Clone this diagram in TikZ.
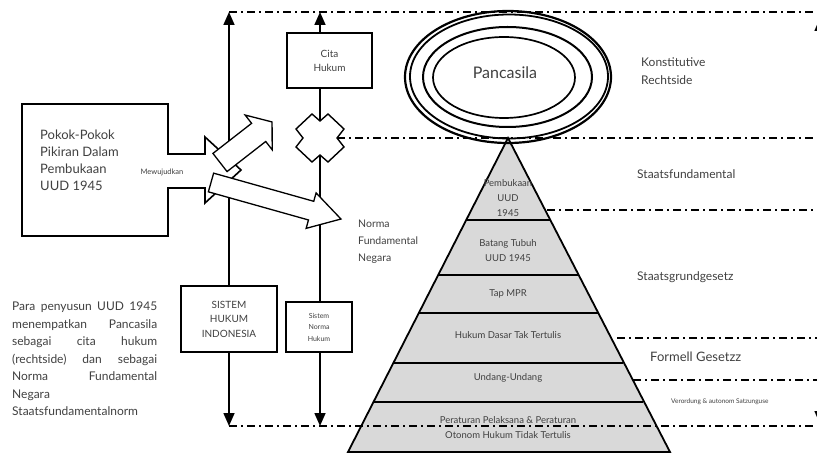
\documentclass[tikz,border=0pt]{standalone}
\usepackage{fontspec}
\setmainfont{Lato}
\usetikzlibrary{arrows.meta,calc}
\newcommand{\sz}[2]{\fontsize{#1}{#2}\selectfont}
\tikzset{
	box/.style={draw,line width=1.6pt,inner sep=0pt,align=center,text=black!75},
	lbl/.style={text=black!75,inner sep=0pt,align=left},
	pyr/.style={text=black!75,inner sep=0pt,align=center,font=\sz{9.5}{15}},
	dashdot/.style={line width=1.3pt,dash pattern=on 8pt off 4pt on 2pt off 4pt},
	axis/.style={line width=1.6pt,-{Triangle[length=13pt,width=11pt]}},
	blockarrow/.style={draw,line width=1.3pt,fill=white},
}
\begin{document}
\begin{tikzpicture}[x=1pt,y=-1pt,line join=miter]
	\useasboundingbox (0,0) rectangle (817,454);
	\fill[black!15] (508,138)--(348,452)--(670,452)--cycle;
	\foreach \yy in {220,275,313,363,402}{
		\pgfmathsetmacro\hw{(\yy-138)/314*161}
		\draw[line width=1.5pt] ({508-\hw},\yy)--({508+\hw},\yy);}
	\draw[line width=1.8pt] (508,138)--(348,452)--(670,452)--cycle;
	\node[pyr] (pemb) at (508,198) {Pembukaan\\UUD\\1945};
	\node[pyr] (batang) at (508,250.5) {Batang Tubuh\\UUD 1945};
	\node[pyr] (tap) at (508,294) {Tap MPR};
	\node[pyr] (hdtt) at (508,335) {Hukum Dasar Tak Tertulis};
	\node[pyr] (uu) at (508,378) {Undang-Undang};
	\node[pyr] (perat) at (508,427.5) {Peraturan Pelaksana \& Peraturan\\Otonom Hukum Tidak Tertulis};
	\draw[line width=2.2pt] (508,77) ellipse [x radius=103,y radius=66];
	\draw[line width=1.8pt] (509,76.5) ellipse [x radius=99,y radius=62];
	\draw[line width=2pt] (507.5,77) ellipse [x radius=84.5,y radius=50];
	\draw[line width=1.7pt] (504,77.5) ellipse [x radius=71,y radius=40.5];
	\node[lbl,font=\sz{16}{18}] (panca) at (505,73) {Pancasila};
	\coordinate (t1) at (229,12);
	\coordinate (b1) at (229,426);
	\coordinate (t2) at (320,12);
	\coordinate (b2) at (320,426);
	\node[box,minimum width=85pt,minimum height=55pt,font=\sz{10}{14}] (cita) at (329.5,60.5) {Cita\\Hukum};
	\node[box,minimum width=96pt,minimum height=66pt,font=\sz{10}{14.5}] (sys) at (229,319) {SISTEM\\HUKUM\\INDONESIA};
	\node[box,minimum width=66pt,minimum height=50pt,font=\sz{7}{11.5}] (snh) at (319,327) {Sistem\\Norma\\Hukum};
	\begin{scope}[shift={(320,138)}]
		\draw[line width=1.4pt,fill=white] (-8,-24)--(0,-17)--(8,-24)--(24,-9)--(17,0)--(24,9)--(8,24)--(0,17)--(-8,24)--(-24,9)--(-17,0)--(-24,-9)--cycle;
		\coordinate (xn) at (0,-17);
		\coordinate (xs) at (0,17);
		\coordinate (xe) at (17,0);
	\end{scope}
	\draw[axis] (sys.north)--(t1);
	\draw[axis] (sys.south)--(b1);
	\draw[axis] (cita.north -| t2)--(t2);
	\draw[line width=1.6pt] (cita.south -| t2)--(xn);
	\draw[line width=1.6pt] (xs)--(snh.north -| t2);
	\draw[axis] (snh.south -| t2)--(b2);
	\draw[axis] (820,40)--(820,18);
	\draw[axis] (820,400)--(820,424);
	\draw[dashdot] (t1)--(817,12);
	\draw[dashdot] (xe)--(817,138);
	\draw[dashdot] (547,210)--(817,210);
	\draw[dashdot] (617,338)--(817,338);
	\draw[dashdot] (633,380)--(817,380);
	\draw[dashdot] (b1)--(817,426);
	\draw[line width=1.6pt,fill=white] (22,104)--(168,104)--(168,154)--(205,154)--(205,137)--(241,170)--(205,203)--(205,188)--(168,188)--(168,236)--(22,236)--cycle;
	\node[lbl,anchor=north west,font=\sz{13}{17}] (pokok) at (40,130) {Pokok-Pokok\\Pikiran Dalam\\Pembukaan\\UUD 1945};
	\node[lbl,font=\sz{7.5}{9}] (mew) at (162,172) {Mewujudkan};
	\begin{scope}[shift={(220,162.5)},rotate=37.9]
		\draw[blockarrow] (0,-11.5)--(49,-11.5)--(49,-22)--(66,0)--(49,22)--(49,11.5)--(0,11.5)--cycle;
	\end{scope}
	\begin{scope}[shift={(211,182.5)},rotate=-15.7]
		\draw[blockarrow] (0,-9.7)--(104,-9.7)--(104,-18.4)--(135,0)--(104,18.4)--(104,9.7)--(0,9.7)--cycle;
	\end{scope}
	\node[lbl,anchor=west,font=\sz{10.5}{17}] (nfn) at (358,242) {Norma\\Fundamental\\Negara};
	\node[lbl,anchor=west,font=\sz{12}{18}] (konst) at (641,71) {Konstitutive\\Rechtside};
	\node[lbl,anchor=west,font=\sz{12}{15}] (sfund) at (637,174) {Staatsfundamental};
	\node[lbl,anchor=west,font=\sz{12}{15}] (sgrund) at (637,277) {Staatsgrundgesetz};
	\node[lbl,anchor=west,font=\sz{13}{15}] (formell) at (650,357) {Formell Gesetzz};
	\node[lbl,anchor=west,font=\sz{6.5}{8}] (veror) at (671,402) {Verordung \& autonom Satzunguse};
	\node[lbl,anchor=north west,text width=145pt,align=justify,font=\sz{12}{17.5}] (para) at (12,302) {Para penyusun UUD 1945\linebreak menempatkan Pancasila\linebreak sebagai cita hukum\linebreak (rechtside) dan sebagai\linebreak Norma Fundamental\linebreak Negara\\ Staatsfundamentalnorm};
\end{tikzpicture}
\end{document}
